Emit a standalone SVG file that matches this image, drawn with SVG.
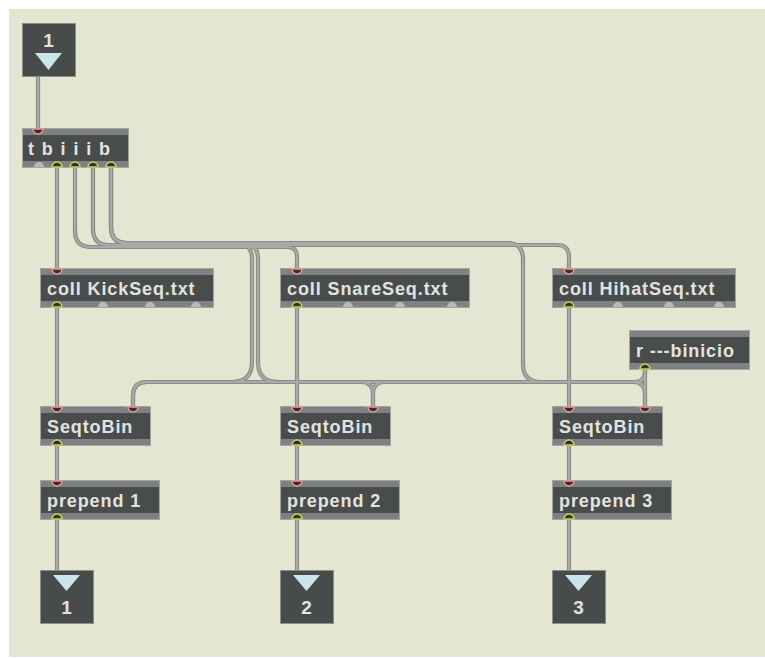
<svg xmlns="http://www.w3.org/2000/svg" xmlns:xlink="http://www.w3.org/1999/xlink" width="765" height="659" viewBox="0 0 765 659">
  <style>
    .bg { fill: #e5e6d1; }
    .body { fill: #484c4b; stroke: #a4a5a3; stroke-width: 1; }
    .band { fill: #7f8182; }
    .label { font-family: "Liberation Sans", Arial, sans-serif; font-size: 18px; font-weight: bold; fill: #e2e3e1; letter-spacing: 0.9px; }
    .num { font-family: "Liberation Sans", Arial, sans-serif; font-size: 19px; font-weight: bold; fill: #e2e3e1; text-anchor: middle; }
    .io { fill: #474b4a; stroke: #8d8f8d; stroke-width: 1; }
    .tri { fill: #c9e5ea; }
    .inlet { fill: #2f3231; stroke: #e8998a; stroke-width: 1.5; }
    .outlet { fill: #2f3231; stroke: #c9d05a; stroke-width: 1.5; }
    .idle { fill: #b9bab8; }
    .cord-edge { fill: none; stroke: #8b8c8a; stroke-width: 4.2; }
    .cord-core { fill: none; stroke: #a9aaa8; stroke-width: 2; }
  </style>
  <defs>
    <!-- patch cord geometry, each drawn twice (edge + core) -->
    <path id="c-in" d="M38,76 V128"/>
    <path id="c-kick" d="M57,167 V268"/>
    <path id="c-snare" d="M75,167 V231 Q75,247 91,247 H287 Q297,247 297,257 V268"/>
    <path id="c-hihat" d="M93,167 V229 Q93,245 109,245 H557 Q569,245 569,257 V268"/>
    <path id="c-b1" d="M111,167 V227 Q111,243 127,243 H236 Q252,243 252,259 V362 Q252,382 232,382 H147 Q133,382 133,396 V406"/>
    <path id="c-b2" d="M111,167 V227 Q111,243 127,243 H242 Q258,243 258,259 V362 Q258,382 278,382 H361 Q373,382 373,394 V406"/>
    <path id="c-b3" d="M111,167 V227 Q111,243 127,243 H507 Q523,243 523,259 V364 Q523,382 541,382 H633 Q645,382 645,394 V406"/>
    <path id="c-r3" d="M645,369 V406"/>
    <path id="c-r2" d="M645,369 V372 Q645,382 635,382 H385 Q373,382 373,394 V406"/>
    <path id="c-r1" d="M645,369 V372 Q645,382 635,382 H147 Q133,382 133,396 V406"/>
    <path id="c-k2s" d="M57,307 V406"/>
    <path id="c-s2s" d="M297,307 V406"/>
    <path id="c-h2s" d="M569,307 V406"/>
    <path id="c-s1p" d="M57,445 V480"/>
    <path id="c-s2p" d="M297,445 V480"/>
    <path id="c-s3p" d="M569,445 V480"/>
    <path id="c-p1o" d="M57,519 V570"/>
    <path id="c-p2o" d="M297,519 V570"/>
    <path id="c-p3o" d="M569,519 V570"/>
  </defs>

  <rect class="bg" x="9" y="9" width="756" height="648"/>

  <g id="connectors">
    <g class="cord-edge">
      <use xlink:href="#c-in"/><use xlink:href="#c-kick"/><use xlink:href="#c-snare"/><use xlink:href="#c-hihat"/>
      <use xlink:href="#c-b1"/><use xlink:href="#c-b2"/><use xlink:href="#c-b3"/>
      <use xlink:href="#c-r1"/><use xlink:href="#c-r2"/><use xlink:href="#c-r3"/>
      <use xlink:href="#c-k2s"/><use xlink:href="#c-s2s"/><use xlink:href="#c-h2s"/>
      <use xlink:href="#c-s1p"/><use xlink:href="#c-s2p"/><use xlink:href="#c-s3p"/>
      <use xlink:href="#c-p1o"/><use xlink:href="#c-p2o"/><use xlink:href="#c-p3o"/>
    </g>
    <g class="cord-core">
      <use xlink:href="#c-in"/><use xlink:href="#c-kick"/><use xlink:href="#c-snare"/><use xlink:href="#c-hihat"/>
      <use xlink:href="#c-b1"/><use xlink:href="#c-b2"/><use xlink:href="#c-b3"/>
      <use xlink:href="#c-r1"/><use xlink:href="#c-r2"/><use xlink:href="#c-r3"/>
      <use xlink:href="#c-k2s"/><use xlink:href="#c-s2s"/><use xlink:href="#c-h2s"/>
      <use xlink:href="#c-s1p"/><use xlink:href="#c-s2p"/><use xlink:href="#c-s3p"/>
      <use xlink:href="#c-p1o"/><use xlink:href="#c-p2o"/><use xlink:href="#c-p3o"/>
    </g>
  </g>

  <!-- inlet 1 -->
  <g id="inlet1">
    <rect class="io" x="22.5" y="23.5" width="53" height="53"/>
    <text class="num" x="48.5" y="47">1</text>
    <polygon class="tri" points="35,53 62,53 48.5,70"/>
  </g>

  <!-- trigger -->
  <g id="trigger">
    <rect class="body" x="22.5" y="128.5" width="106" height="39"/>
    <rect class="band" x="23" y="129" width="105" height="6"/>
    <rect class="band" x="23" y="161" width="105" height="6"/>
    <text class="label" x="28" y="155" style="letter-spacing:1.4px">t b i i i b</text>
    <path class="inlet" d="M33,129 A5,5 0 0 0 43,129 Z"/>
    <path class="idle" d="M34,167 A5,5 0 0 1 44,167 Z"/>
    <path class="outlet" d="M52,167 A5,5 0 0 1 62,167 Z"/>
    <path class="outlet" d="M70,167 A5,5 0 0 1 80,167 Z"/>
    <path class="outlet" d="M88,167 A5,5 0 0 1 98,167 Z"/>
    <path class="outlet" d="M106,167 A5,5 0 0 1 116,167 Z"/>
  </g>

  <!-- coll KickSeq.txt -->
  <g id="coll-kick">
    <rect class="body" x="40.5" y="268.5" width="173" height="39"/>
    <rect class="band" x="41" y="269" width="172" height="6"/>
    <rect class="band" x="41" y="301" width="172" height="6"/>
    <text class="label" x="47" y="295">coll KickSeq.txt</text>
    <path class="inlet" d="M52,269 A5,5 0 0 0 62,269 Z"/>
    <path class="outlet" d="M52,307 A5,5 0 0 1 62,307 Z"/>
    <path class="idle" d="M98,307 A5,5 0 0 1 108,307 Z"/>
    <path class="idle" d="M145,307 A5,5 0 0 1 155,307 Z"/>
    <path class="idle" d="M191,307 A5,5 0 0 1 201,307 Z"/>
  </g>

  <!-- coll SnareSeq.txt -->
  <g id="coll-snare">
    <rect class="body" x="280.5" y="268.5" width="189" height="39"/>
    <rect class="band" x="281" y="269" width="188" height="6"/>
    <rect class="band" x="281" y="301" width="188" height="6"/>
    <text class="label" x="287" y="295">coll SnareSeq.txt</text>
    <path class="inlet" d="M292,269 A5,5 0 0 0 302,269 Z"/>
    <path class="outlet" d="M292,307 A5,5 0 0 1 302,307 Z"/>
    <path class="idle" d="M343,307 A5,5 0 0 1 353,307 Z"/>
    <path class="idle" d="M395,307 A5,5 0 0 1 405,307 Z"/>
    <path class="idle" d="M447,307 A5,5 0 0 1 457,307 Z"/>
  </g>

  <!-- coll HihatSeq.txt -->
  <g id="coll-hihat">
    <rect class="body" x="552.5" y="268.5" width="183" height="39"/>
    <rect class="band" x="553" y="269" width="182" height="6"/>
    <rect class="band" x="553" y="301" width="182" height="6"/>
    <text class="label" x="559" y="295">coll HihatSeq.txt</text>
    <path class="inlet" d="M564,269 A5,5 0 0 0 574,269 Z"/>
    <path class="outlet" d="M564,307 A5,5 0 0 1 574,307 Z"/>
    <path class="idle" d="M613,307 A5,5 0 0 1 623,307 Z"/>
    <path class="idle" d="M664,307 A5,5 0 0 1 674,307 Z"/>
    <path class="idle" d="M714,307 A5,5 0 0 1 724,307 Z"/>
  </g>

  <!-- receive object for binicio -->
  <g id="receive">
    <rect class="body" x="629.5" y="330.5" width="120" height="39"/>
    <rect class="band" x="630" y="331" width="119" height="6"/>
    <rect class="band" x="630" y="363" width="119" height="6"/>
    <text class="label" x="636" y="357">r ---binicio</text>
    <path class="outlet" d="M640,369 A5,5 0 0 1 650,369 Z"/>
  </g>

  <!-- SeqtoBin 1 -->
  <g id="seqtobin1">
    <rect class="body" x="40.5" y="406.5" width="110" height="39"/>
    <rect class="band" x="41" y="407" width="109" height="6"/>
    <rect class="band" x="41" y="439" width="109" height="6"/>
    <text class="label" x="47" y="433">SeqtoBin</text>
    <path class="inlet" d="M52,407 A5,5 0 0 0 62,407 Z"/>
    <path class="inlet" d="M128,407 A5,5 0 0 0 138,407 Z"/>
    <path class="outlet" d="M52,445 A5,5 0 0 1 62,445 Z"/>
  </g>

  <!-- SeqtoBin 2 -->
  <g id="seqtobin2">
    <rect class="body" x="280.5" y="406.5" width="110" height="39"/>
    <rect class="band" x="281" y="407" width="109" height="6"/>
    <rect class="band" x="281" y="439" width="109" height="6"/>
    <text class="label" x="287" y="433">SeqtoBin</text>
    <path class="inlet" d="M292,407 A5,5 0 0 0 302,407 Z"/>
    <path class="inlet" d="M368,407 A5,5 0 0 0 378,407 Z"/>
    <path class="outlet" d="M292,445 A5,5 0 0 1 302,445 Z"/>
  </g>

  <!-- SeqtoBin 3 -->
  <g id="seqtobin3">
    <rect class="body" x="552.5" y="406.5" width="110" height="39"/>
    <rect class="band" x="553" y="407" width="109" height="6"/>
    <rect class="band" x="553" y="439" width="109" height="6"/>
    <text class="label" x="559" y="433">SeqtoBin</text>
    <path class="inlet" d="M564,407 A5,5 0 0 0 574,407 Z"/>
    <path class="inlet" d="M640,407 A5,5 0 0 0 650,407 Z"/>
    <path class="outlet" d="M564,445 A5,5 0 0 1 574,445 Z"/>
  </g>

  <!-- prepend 1 -->
  <g id="prepend1">
    <rect class="body" x="40.5" y="480.5" width="119" height="39"/>
    <rect class="band" x="41" y="481" width="118" height="6"/>
    <rect class="band" x="41" y="513" width="118" height="6"/>
    <text class="label" x="47" y="507">prepend 1</text>
    <path class="inlet" d="M52,481 A5,5 0 0 0 62,481 Z"/>
    <path class="outlet" d="M52,519 A5,5 0 0 1 62,519 Z"/>
  </g>

  <!-- prepend 2 -->
  <g id="prepend2">
    <rect class="body" x="280.5" y="480.5" width="119" height="39"/>
    <rect class="band" x="281" y="481" width="118" height="6"/>
    <rect class="band" x="281" y="513" width="118" height="6"/>
    <text class="label" x="287" y="507">prepend 2</text>
    <path class="inlet" d="M292,481 A5,5 0 0 0 302,481 Z"/>
    <path class="outlet" d="M292,519 A5,5 0 0 1 302,519 Z"/>
  </g>

  <!-- prepend 3 -->
  <g id="prepend3">
    <rect class="body" x="552.5" y="480.5" width="119" height="39"/>
    <rect class="band" x="553" y="481" width="118" height="6"/>
    <rect class="band" x="553" y="513" width="118" height="6"/>
    <text class="label" x="559" y="507">prepend 3</text>
    <path class="inlet" d="M564,481 A5,5 0 0 0 574,481 Z"/>
    <path class="outlet" d="M564,519 A5,5 0 0 1 574,519 Z"/>
  </g>

  <!-- outlets -->
  <g id="outlet1">
    <rect class="io" x="40.5" y="570.5" width="53" height="53"/>
    <polygon class="tri" points="53,575 80,575 66.5,591"/>
    <text class="num" x="66.5" y="614">1</text>
  </g>
  <g id="outlet2">
    <rect class="io" x="280.5" y="570.5" width="53" height="53"/>
    <polygon class="tri" points="293,575 320,575 306.5,591"/>
    <text class="num" x="306.5" y="614">2</text>
  </g>
  <g id="outlet3">
    <rect class="io" x="552.5" y="570.5" width="53" height="53"/>
    <polygon class="tri" points="565,575 592,575 578.5,591"/>
    <text class="num" x="578.5" y="614">3</text>
  </g>
</svg>
